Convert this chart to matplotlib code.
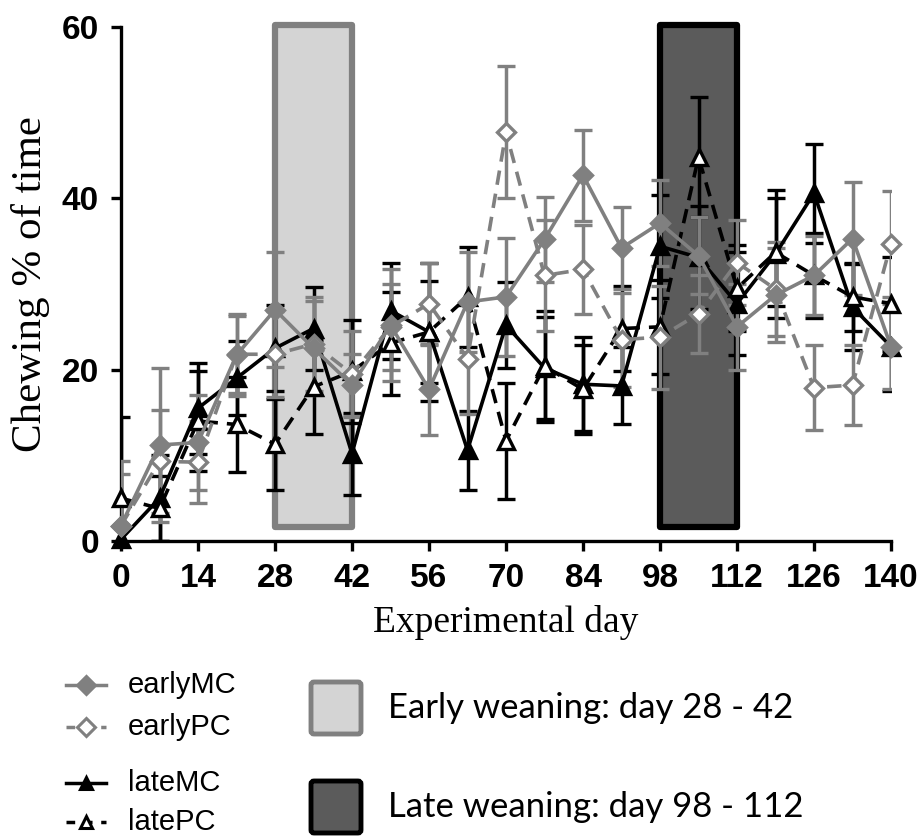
import matplotlib
matplotlib.use("Agg")
import matplotlib.pyplot as plt
from matplotlib.patches import Rectangle, FancyBboxPatch
from matplotlib.lines import Line2D
import numpy as np

# experimental days (weekly)
days = [0, 7, 14, 21, 28, 35, 42, 49, 56, 63, 70, 77, 84, 91, 98, 105, 112, 119, 126, 133, 140]

earlyMC = [1.8, 11.2, 11.5, 21.7, 27.0, 22.5, 18.2, 25.2, 17.7, 27.9, 28.5, 35.2, 42.7, 34.2,
           37.1, 33.3, 25.0, 28.7, 31.0, 35.3, 22.7]
earlyMC_err = [7.5, 9.0, 5.5, 4.8, 6.7, 5.5, 3.6, 6.5, 5.3, 5.8, 6.9, 5.0, 5.3, 4.8,
               5.0, 4.5, 5.0, 5.5, 4.6, 6.6, 5.0]

earlyPC = [1.8, 9.3, 9.2, 21.8, 21.8, 23.0, 19.5, 25.0, 27.7, 21.3, 47.7, 31.0, 31.7, 23.5,
           23.8, 26.5, 32.5, 29.4, 17.9, 18.2, 34.7]
earlyPC_err = [6.0, 6.0, 4.8, 4.5, 5.0, 5.5, 5.0, 5.0, 4.8, 6.5, 7.7, 6.5, 5.2, 5.5,
               6.0, 4.5, 5.0, 5.5, 5.0, 4.7, 6.2]

lateMC = [0.2, 5.0, 15.5, 19.0, 22.5, 24.8, 10.2, 26.9, 24.4, 10.6, 25.2, 20.2, 18.3, 18.1,
          34.4, 33.1, 27.7, 33.5, 40.6, 27.3, 22.7]
lateMC_err = [4.5, 5.0, 5.3, 4.3, 5.0, 4.8, 4.8, 5.6, 6.0, 4.6, 5.0, 6.0, 5.5, 4.5,
              6.0, 6.0, 6.0, 7.5, 5.8, 5.0, 5.2]

latePC = [5.0, 3.8, 14.0, 13.6, 11.3, 18.0, 19.8, 23.1, 24.4, 28.5, 11.7, 20.4, 17.7, 24.8,
          25.0, 44.8, 29.5, 33.7, 31.0, 28.5, 27.7]
latePC_err = [9.5, 3.8, 5.8, 5.5, 5.3, 5.5, 6.0, 6.0, 8.0, 5.8, 6.8, 6.5, 5.2, 5.0,
              5.5, 7.0, 5.0, 6.3, 5.0, 4.0, 5.5]

early_weaning = (28, 42)
late_weaning = (98, 112)

GRAY = "#808080"
BLACK = "#000000"
DASH = (0, (4, 2.5))

fig = plt.figure(figsize=(9.21, 8.38), dpi=100)
ax = fig.add_axes([121 / 921, 297 / 838, 770 / 921, 514 / 838])

# weaning periods
ax.add_patch(Rectangle((early_weaning[0], 1.6), early_weaning[1] - early_weaning[0], 58.6,
                       facecolor="#d4d4d4", edgecolor=GRAY, lw=4.5, joinstyle="round",
                       zorder=1, clip_on=False))
ax.add_patch(Rectangle((late_weaning[0], 1.6), late_weaning[1] - late_weaning[0], 58.6,
                       facecolor="#5b5b5b", edgecolor=BLACK, lw=4.5, joinstyle="round",
                       zorder=1, clip_on=False))

series = [
    (lateMC, lateMC_err, BLACK, "-", "^", BLACK),
    (latePC, latePC_err, BLACK, DASH, "^", "white"),
    (earlyPC, earlyPC_err, GRAY, DASH, "D", "white"),
    (earlyMC, earlyMC_err, GRAY, "-", "D", GRAY),
]
for vals, errs, col, ls, mk, mfc in series:
    ms = 12 if mk == "^" else 9.5
    line, caps, bars = ax.errorbar(days, vals, yerr=errs, color=col, ls=ls, lw=2.6,
                                   marker=mk, ms=ms, mfc=mfc, mec=col, mew=2.4,
                                   capsize=6.5, capthick=2.5, elinewidth=2.5, zorder=3)
    line.set_clip_on(False)

ax.set_xlim(0, 140)
ax.set_ylim(0, 60)
ax.set_xticks(np.arange(0, 141, 14))
ax.set_yticks([0, 20, 40, 60])
for s in ["top", "right"]:
    ax.spines[s].set_visible(False)
for s in ["left", "bottom"]:
    ax.spines[s].set_linewidth(2.4)
ax.tick_params(axis="x", length=7, width=2.4, pad=9, labelsize=24)
ax.tick_params(axis="y", length=7, width=2.4, pad=9, labelsize=24)
for lab in ax.get_xticklabels() + ax.get_yticklabels():
    lab.set_fontfamily("Liberation Sans")
    lab.set_fontweight("bold")

ax.set_xlabel("Experimental day", fontfamily="Liberation Serif", fontsize=27, labelpad=8)
ax.set_ylabel("Chewing % of time", fontfamily="Liberation Serif", fontsize=31, labelpad=8)

# legend drawn in pixel space
lax = fig.add_axes([0, 0, 1, 1], zorder=-1)
lax.set_xlim(0, 921)
lax.set_ylim(838, 0)
lax.axis("off")

leg_items = [
    ("earlyMC", GRAY, "-", "D", GRAY, 685),
    ("earlyPC", GRAY, (0, (2.5, 2.5)), "D", "white", 727),
    ("lateMC", BLACK, "-", "^", BLACK, 783),
    ("latePC", BLACK, (0, (2.5, 2.5)), "^", "white", 822),
]
for name, col, ls, mk, mfc, y in leg_items:
    lax.add_line(Line2D([66, 106], [y, y], color=col, ls=ls, lw=2.5))
    lax.add_line(Line2D([86], [y], marker=mk, ms=9, color=col, mfc=mfc, mec=col, mew=2.2))
    lax.text(128, y, name, fontfamily="Liberation Sans", fontsize=21, va="center", ha="left")

boxes = [
    ("Early weaning: day 28 - 42", "#d4d4d4", GRAY, 708),
    ("Late weaning: day 98 - 112", "#5b5b5b", BLACK, 807),
]
for txt, fc, ec, y in boxes:
    lax.add_patch(FancyBboxPatch((311, y - 26), 50, 52, boxstyle="round,pad=0,rounding_size=3",
                                 facecolor=fc, edgecolor=ec, lw=3.5))
    lax.text(388, y, txt, fontfamily="Lato", fontsize=25, va="center", ha="left")

fig.savefig("out.png", dpi=100)
